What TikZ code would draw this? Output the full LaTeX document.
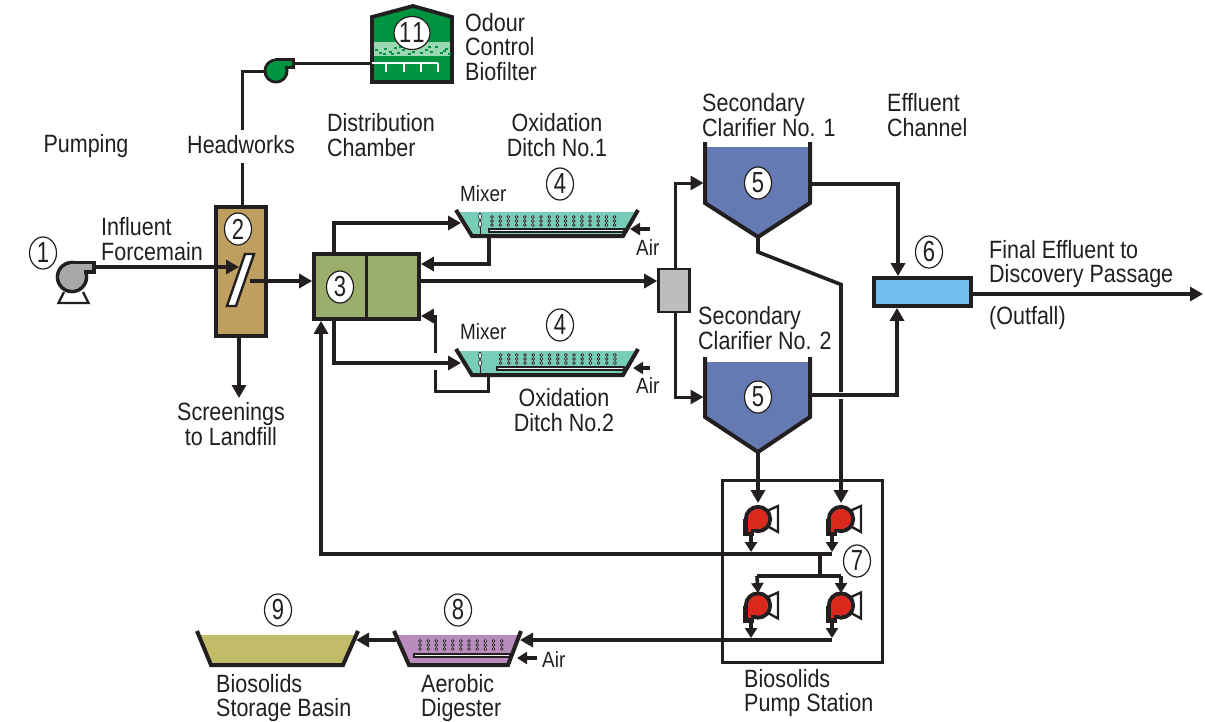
\documentclass[tikz,border=0pt]{standalone}
\usepackage{fontspec}
\setmainfont[FakeStretch=0.86]{Liberation Sans}
\newfontfamily\numfont[FakeStretch=0.76]{Liberation Sans}
\usetikzlibrary{arrows.meta,shapes.geometric,calc}
\definecolor{ink}{HTML}{231F20}
\definecolor{brownfill}{HTML}{BF9F5F}
\definecolor{olivefill}{HTML}{9CAE6B}
\definecolor{tealfill}{HTML}{78CDB9}
\definecolor{bluefill}{HTML}{6579B3}
\definecolor{skyfill}{HTML}{72C0EE}
\definecolor{greenfill}{HTML}{009440}
\definecolor{lightgreen}{HTML}{9BD7B0}
\definecolor{greyfill}{HTML}{BDBDBD}
\definecolor{pumpgrey}{HTML}{A8A8A8}
\definecolor{redfill}{HTML}{DA291C}
\definecolor{purplefill}{HTML}{B88CBC}
\definecolor{yellowfill}{HTML}{C2BC68}
\tikzset{
  x=1pt,y=-1pt,
  lbl/.style={inner sep=0pt,align=left,text=ink,font=\fontsize{25}{24.5}\selectfont},
  lblc/.style={lbl,align=center},
  small/.style={inner sep=0pt,text=ink,font=\fontsize{22}{22}\selectfont},
  tag/.style={ellipse,draw=ink,line width=1.2pt,fill=white,inner sep=0pt,minimum width=27pt,minimum height=32pt,text=ink,font=\numfont\fontsize{29}{29}\selectfont},
  boxnode/.style={rectangle,draw=ink,line width=3.8pt,inner sep=0pt},
  pipe/.style={draw=ink,line width=3.6pt},
  thinpipe/.style={draw=ink,line width=3pt},
  flow/.style={pipe,-{Triangle[length=13pt,width=14pt]}},
  thinflow/.style={thinpipe,-{Triangle[length=13pt,width=14pt]}},
  shortflow/.style={pipe,-{Triangle[length=10pt,width=12pt]}},
  tank/.style={draw=ink,line width=4pt,line join=miter},
  pics/redpump/.style={code={
    \draw[ink,line width=2.4pt,fill=white] (11,-9) -- (20,-13) -- (20,13) -- (11,8) -- cycle;
    \draw[ink,line width=4.2pt] (0,0) circle (12);
    \draw[ink,line width=4.2pt] (-12.5,0) -- (-12.5,15) -- (-6,15) -- (-6,10);
    \fill[redfill] (0,0) circle (10);
    \fill[redfill] (-10.4,0) rectangle (-7,12.9);
    \fill[redfill] (-10.4,-2) rectangle (0,9.8);
  }}
}
\newcommand{\dotcols}[4]{%
  \foreach \i in {0,...,#2}{\foreach \j in {0,1,2}{
    \draw[ink,line width=0.7pt,fill=white] ({#1+8.17*\i},{#3+4*\j}) circle (1.4);}}}
\begin{document}
\begin{tikzpicture}
\useasboundingbox (0,0) rectangle (1205,721);
\fill[white] (0,0) rectangle (1205,721);

% ---- equipment boxes
\node[boxnode,fill=brownfill,minimum width=50pt,minimum height=129pt] (head) at (241,271.5) {};
\node[boxnode,fill=olivefill,minimum width=105pt,minimum height=65pt] (chamber) at (366.5,286.5) {};
\draw[ink,line width=3pt] (chamber.north) -- (chamber.south);
\node[rectangle,draw=ink,line width=2.6pt,fill=greyfill,inner sep=0pt,minimum width=31pt,minimum height=43pt] (splitter) at (674,290.5) {};
\node[boxnode,fill=skyfill,minimum width=97pt,minimum height=28pt] (channel) at (922.5,292) {};
\node[rectangle,draw=ink,line width=2.4pt,inner sep=0pt,minimum width=160pt,minimum height=182pt] (station) at (802.5,571.5) {};

% ---- screen
\draw[ink,line width=2.4pt,fill=white] (245,254) -- (254,254) -- (236,306) -- (227,306) -- cycle;

% ---- ditch 1
\fill[tealfill] (458,212) -- (636,212) -- (623,236) -- (472,236) -- cycle;
\draw[ink,line width=1.2pt,fill=white!85!tealfill] (489,229) rectangle (624,232);
\dotcols{492}{15}{217}{}
\draw[ink,line width=0.8pt] (480,213) -- (480,235);
\draw[ink,line width=0.7pt,fill=white] (480,216.5) ellipse (1.4 and 3.5);
\draw[ink,line width=0.7pt,fill=white] (480,224) ellipse (1.4 and 3.5);
\draw[tank] (456,210) -- (472,236) -- (623,236) -- (638,210);
\coordinate (d1in) at (461,223); \coordinate (d1ret) at (489,236); \coordinate (d1air) at (630,229);

% ---- ditch 2
\fill[tealfill] (458,351) -- (636,351) -- (623,375) -- (472,375) -- cycle;
\draw[ink,line width=1.2pt,fill=white!85!tealfill] (497,367) rectangle (624,370);
\dotcols{500.5}{14}{355}{}
\draw[ink,line width=0.8pt] (480,352) -- (480,374);
\draw[ink,line width=0.7pt,fill=white] (480,355.5) ellipse (1.4 and 3.5);
\draw[ink,line width=0.7pt,fill=white] (480,363) ellipse (1.4 and 3.5);
\draw[tank] (456,349) -- (472,375) -- (623,375) -- (638,349);
\coordinate (d2in) at (461,363); \coordinate (d2ret) at (488,375); \coordinate (d2air) at (633,368);

% ---- clarifiers
\fill[bluefill] (705,147) -- (810,147) -- (810,203) -- (758,237) -- (705,203) -- cycle;
\draw[tank] (705,142) -- (705,203) -- (758,237) -- (810,203) -- (810,142);
\coordinate (c1in) at (703.5,183); \coordinate (c1out) at (810,184); \coordinate (c1tip) at (758,237);
\fill[bluefill] (705,362) -- (810,362) -- (810,417) -- (758,452) -- (705,417) -- cycle;
\draw[tank] (705,357) -- (705,417) -- (758,452) -- (810,417) -- (810,357);
\coordinate (c2in) at (703.5,397); \coordinate (c2out) at (810,395); \coordinate (c2tip) at (758,452);

% ---- digester and basin
\fill[purplefill] (396,635) -- (519,635) -- (508,665) -- (409,665) -- cycle;
\draw[ink,line width=1.2pt,fill=white!85!purplefill] (414,654) rectangle (510,657);
\dotcols{420}{10}{641}{}
\draw[tank] (394,631) -- (409,665) -- (508,665) -- (521,631);
\coordinate (digin) at (520,640); \coordinate (digout) at (396,640); \coordinate (digair) at (517,658);
\fill[yellowfill] (199,635) -- (356,635) -- (343,665) -- (211,665) -- cycle;
\draw[tank] (197,631) -- (211,665) -- (343,665) -- (358,631);
\coordinate (basinin) at (356,640);

% ---- biofilter
\path[fill=greenfill,draw=ink,line width=3.8pt,line join=miter] (372,17) -- (413,6) -- (452,17) -- (452,82) -- (372,82) -- cycle;
\fill[lightgreen] (374,42) rectangle (450,56);
\foreach \a/\b in {375/49,379/52,384/48,389/51,394/47,397/52,402/49,408/53,414/47,420/52,425/49,430/51,435/46,440/52,445/48,383/53,399/46,428/46,443/50,448/53,412/51,391/53}{
  \fill[greenfill] (\a,\b) rectangle ++(3.2,2.4);}
\coordinate (bioin) at (372,63);
\draw[white,line width=2pt] (372,63) -- (438,63);
\foreach \a in {386,404,421,438}{\draw[white,line width=1.6pt] (\a,63) -- (\a,72);}

% ---- odour blower
\coordinate (blowin) at (264,71); \coordinate (blowout) at (293,63);
\draw[ink,line width=3pt,fill=greenfill] (276,71) circle (11);
\draw[ink,line width=3pt,fill=greenfill] (276,59.5) rectangle (293,67);
\fill[greenfill] (276,71) circle (9.5);
\fill[greenfill] (274,61) rectangle (291.5,65.5);
\fill[greenfill] (276,61) rectangle (285,72);

% ---- influent pump
\draw[ink,line width=2.4pt] (64,292) -- (58.5,303) -- (88.5,303) -- (83,292);
\draw[ink,line width=3.6pt,fill=pumpgrey] (72,277) circle (14.5);
\draw[ink,line width=3.6pt,fill=pumpgrey] (72,262.5) rectangle (94,272);
\fill[pumpgrey] (72,277) circle (12.7);
\fill[pumpgrey] (70,264.3) rectangle (92.2,270.2);
\fill[pumpgrey] (72,264.3) rectangle (84,280);
\coordinate (infl) at (94,267);
\coordinate (screenin) at (239,267);
\coordinate (screenout) at (250,281);

% ---- biosolids pumps
\pic at (758,519) {redpump};
\pic at (841,519) {redpump};
\pic at (758,605.5) {redpump};
\pic at (841,605.5) {redpump};
\coordinate (p1o) at (751,534); \coordinate (p2o) at (832,534);
\coordinate (p3o) at (751,621); \coordinate (p4o) at (832,621);
\coordinate (p1in) at (758,503); \coordinate (p2in) at (841,503);
\coordinate (p3in) at (758,593); \coordinate (p4in) at (841,593);
\coordinate (col1L) at (321,554); \coordinate (col1R) at (832,554);
\coordinate (col2R) at (832,640);
\coordinate (t1) at (751,552); \coordinate (t2) at (832,552);
\coordinate (t3) at (751,638); \coordinate (t4) at (832,638);
\coordinate (riser) at (820,554); \coordinate (riserT) at (820,576);

% ---- connectors
\draw[flow] (infl) -- (screenin);
\draw[flow] (screenout) -- (chamber.west |- screenout);
\draw[thinpipe] (head.north -| 242,0) -- (242,163);
\draw[thinpipe,line join=miter] (242,130) -- (242,71) -- (blowin);
\draw[thinpipe] (blowout) -- (bioin);
\draw[flow] (239,337) -- (239,398);
\draw[flow,line join=miter] (334,253) -- (334,223) -- (d1in);
\draw[flow,line join=miter] (d1ret) -- (489,264) -- (chamber.east |- 0,264);
\draw[flow] (chamber.east |- 0,281) -- (splitter.west |- 0,281);
\draw[flow,line join=miter] (334,320) -- (334,363) -- (d2in);
\draw[thinpipe,line join=miter] (d2ret) -- (488,391) -- (435,391) -- (435,370);
\draw[thinflow,line join=miter] (435,353) -- (435,316) -- (chamber.east |- 0,316);
\draw[thinflow,line join=miter] (675,269) -- (675,183) -- (c1in);
\draw[thinflow,line join=miter] (675,312) -- (675,397) -- (c2in);
\draw[flow,line join=miter] (c1out) -- (898,184) -- (channel.north -| 898,0);
\draw[flow,line join=miter] (c2out) -- (897,395) -- (channel.south -| 897,0);
\draw[flow] (channel.east |- 0,294) -- (1203,294);
\draw[flow,-,line join=miter] (c1tip) -- (758,252) -- (841,284.5) -- (841,392);
\draw[flow] (841,399) -- (p2in);
\draw[flow] (c2tip) -- (p1in);
\draw[flow,line join=miter] (col1R) -- (col1L) -- (chamber.south -| col1L);
\draw[pipe] (riser) -- (riserT);
\draw[pipe] (757,576) -- (841,576);
\draw[shortflow] (757,576) -- (p3in);
\draw[shortflow] (841,576) -- (p4in);
\draw[shortflow] (p1o) -- (t1);
\draw[shortflow] (p2o) -- (t2);
\draw[shortflow] (p3o) -- (t3);
\draw[shortflow] (p4o) -- (t4);
\draw[flow] (col2R) -- (digin);
\draw[flow] (digout) -- (basinin);
\draw[shortflow] (650,229) -- (d1air);
\draw[shortflow] (650,368) -- (d2air);
\draw[shortflow] (537,658) -- (digair);

% ---- numbered tags
\node[tag] (n1) at (43,253) {1};
\node[tag] (n2) at (238,229) {2};
\node[tag] (n3) at (340,287) {3};
\node[tag] (n4a) at (560,184) {4};
\node[tag] (n4b) at (560,325) {4};
\node[tag] (n5a) at (758,183) {5};
\node[tag] (n5b) at (758,397) {5};
\node[tag] (n6) at (929,252) {6};
\node[tag] (n7) at (857,561) {7};
\node[tag] (n8) at (458,610) {8};
\node[tag] (n9) at (278,610) {9};
\node[tag,minimum width=33pt,minimum height=33pt] (n11) at (412,33) {1\kern1pt 1};

% ---- labels
\node[lbl,anchor=center] (tpump) at (86,146) {Pumping};
\node[lbl,anchor=center] (thead) at (241,145) {Headworks};
\node[lbl,anchor=west] (tdist) at (327,135) {Distribution\\Chamber};
\node[lblc] (tox1) at (557,135) {Oxidation\\Ditch No.1};
\node[small,anchor=west] (tmix1) at (460,194) {Mixer};
\node[small,anchor=west] (tmix2) at (460,332) {Mixer};
\node[small,anchor=west] (tair1) at (636,248) {Air};
\node[small,anchor=west] (tair2) at (636,386) {Air};
\node[small,anchor=west] (tair3) at (542,660) {Air};
\node[lblc] (tox2) at (564,410) {Oxidation\\Ditch No.2};
\node[lbl,anchor=west] (tsec1) at (702,115) {Secondary\\Clarifier No. 1};
\node[lbl,anchor=west] (teff) at (887,115) {Effluent\\Channel};
\node[lbl,anchor=west] (tsec2) at (698,328) {Secondary\\Clarifier No. 2};
\node[lbl,anchor=west] (tfinal) at (989,264) {Final Effluent to\\Discovery Passage};
\node[lbl,anchor=west] (toutf) at (989,318) {(Outfall)};
\node[lbl,anchor=west] (tinf) at (101,239) {Influent\\Forcemain};
\node[lbl,anchor=west] (todour) at (465,47) {Odour\\Control\\Biofilter};
\node[lblc] (tscr) at (231,424) {Screenings\\to Landfill};
\node[lbl,anchor=west] (tbas) at (216,698) {Biosolids\\Storage Basin};
\node[lbl,anchor=west] (tdig) at (421,698) {Aerobic\\Digester};
\node[lbl,anchor=west] (tbps) at (744,693) {Biosolids\\Pump Station};
\end{tikzpicture}
\end{document}
